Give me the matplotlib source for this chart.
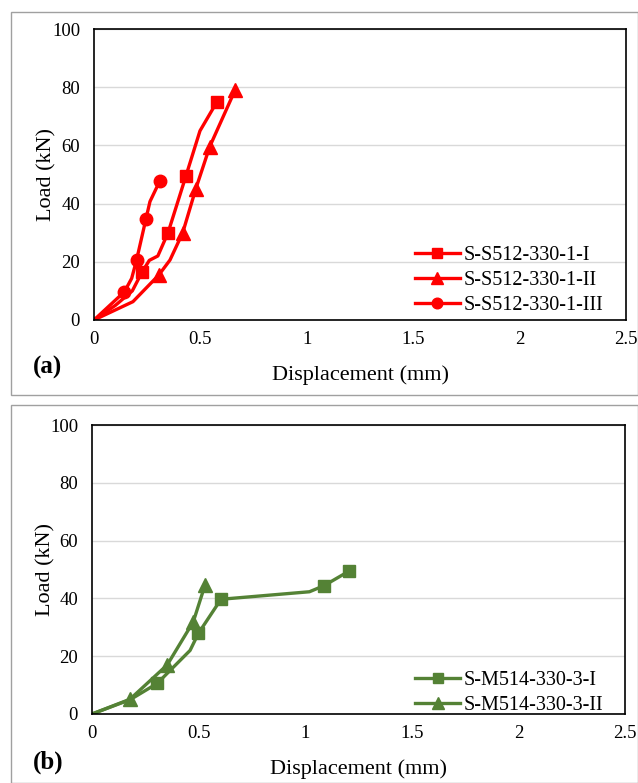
import matplotlib
matplotlib.use("Agg")
import matplotlib.pyplot as plt
from matplotlib.patches import Rectangle

plt.rcParams['font.family'] = ['Liberation Serif', 'DejaVu Serif']

# panel (a) - S-S512 series (displacement mm, load kN)
s1_disp = [0, 0.10, 0.18, 0.226, 0.26, 0.30, 0.348, 0.432, 0.498, 0.578]
s1_load = [0, 5, 10, 16.5, 20.5, 22, 30, 49.5, 65, 75]
s1_marks = [3, 6, 7, 9]

s2_disp = [0, 0.183, 0.305, 0.357, 0.417, 0.478, 0.544, 0.663]
s2_load = [0, 6.3, 15.5, 20.6, 30, 45, 59.6, 79]
s2_marks = [2, 4, 5, 6, 7]

s3_disp = [0, 0.143, 0.177, 0.20, 0.244, 0.263, 0.31]
s3_load = [0, 9.7, 14.3, 20.6, 34.7, 40.7, 47.9]
s3_marks = [1, 3, 4, 6]

# panel (b) - S-M514 series
m1_disp = [0, 0.18, 0.306, 0.46, 0.499, 0.605, 1.02, 1.088, 1.207]
m1_load = [0, 5, 10.6, 22, 27.9, 39.7, 42.3, 44.4, 49.5]
m1_marks = [2, 4, 5, 7, 8]

m2_disp = [0, 0.178, 0.353, 0.475, 0.53]
m2_load = [0, 5.1, 17, 31.9, 44.6]
m2_marks = [1, 2, 3, 4]

red = '#FF0000'
green = '#548235'

W, H = 638, 783
fig = plt.figure(figsize=(W / 100, H / 100), dpi=100)

# grey panel frames
fig.patches.append(Rectangle((11 / W, 1 - 395 / H), 627 / W, 383 / H, transform=fig.transFigure,
                             fill=False, edgecolor='#a0a0a0', linewidth=1))
fig.patches.append(Rectangle((11 / W, 0), 627 / W, 378 / H, transform=fig.transFigure,
                             fill=False, edgecolor='#a0a0a0', linewidth=1))

ax1 = fig.add_axes([94 / W, 1 - 320 / H, 532 / W, 291 / H])
ax2 = fig.add_axes([92 / W, 1 - 714 / H, 533 / W, 289 / H])


def style(ax, left):
    ax.set_xlim(0, 2.5)
    ax.set_ylim(0, 100)
    ax.set_xticks([0, 0.5, 1, 1.5, 2, 2.5])
    ax.set_xticklabels(['0', '0.5', '1', '1.5', '2', '2.5'])
    ax.set_yticks([0, 20, 40, 60, 80, 100])
    ax.tick_params(length=0, labelsize=13.5, pad=8)
    ax.tick_params(axis='y', pad=10)
    ax.yaxis.grid(True, color='#d9d9d9', linewidth=1)
    ax.set_axisbelow(True)
    for sp in ax.spines.values():
        sp.set_color('black')
        sp.set_linewidth(1.2)
    ax.set_xlabel('Displacement (mm)', fontsize=16, labelpad=12)
    ax.set_ylabel('Load (kN)', fontsize=16)
    ax.yaxis.set_label_coords((56 - left) / 532, 0.5)


lw = 2.4
ax1.plot(s1_disp, s1_load, color=red, lw=lw, marker='s', ms=8.5, markevery=s1_marks, label='S-S512-330-1-I')
ax1.plot(s2_disp, s2_load, color=red, lw=lw, marker='^', ms=9.5, markevery=s2_marks, label='S-S512-330-1-II')
ax1.plot(s3_disp, s3_load, color=red, lw=lw, marker='o', ms=9, markevery=s3_marks, label='S-S512-330-1-III')
style(ax1, 94)

ax2.plot(m1_disp, m1_load, color=green, lw=lw, marker='s', ms=8.5, markevery=m1_marks, label='S-M514-330-3-I')
ax2.plot(m2_disp, m2_load, color=green, lw=lw, marker='^', ms=9.5, markevery=m2_marks, label='S-M514-330-3-II')
style(ax2, 92)

for ax, anchor in ((ax1, (0.603, 0.017)), (ax2, (0.606, -0.004))):
    ax.legend(loc='lower left', bbox_to_anchor=anchor, borderaxespad=0, frameon=False,
              fontsize=14.5, handlelength=2.25, labelspacing=0.3, handletextpad=0.15,
              borderpad=0, markerscale=0.85)

fig.text(33 / W, 1 - 367 / H, '(a)', fontsize=18, fontweight='bold', va='center')
fig.text(33 / W, 1 - 762 / H, '(b)', fontsize=18, fontweight='bold', va='center')

fig.savefig('out.png', dpi=100)
